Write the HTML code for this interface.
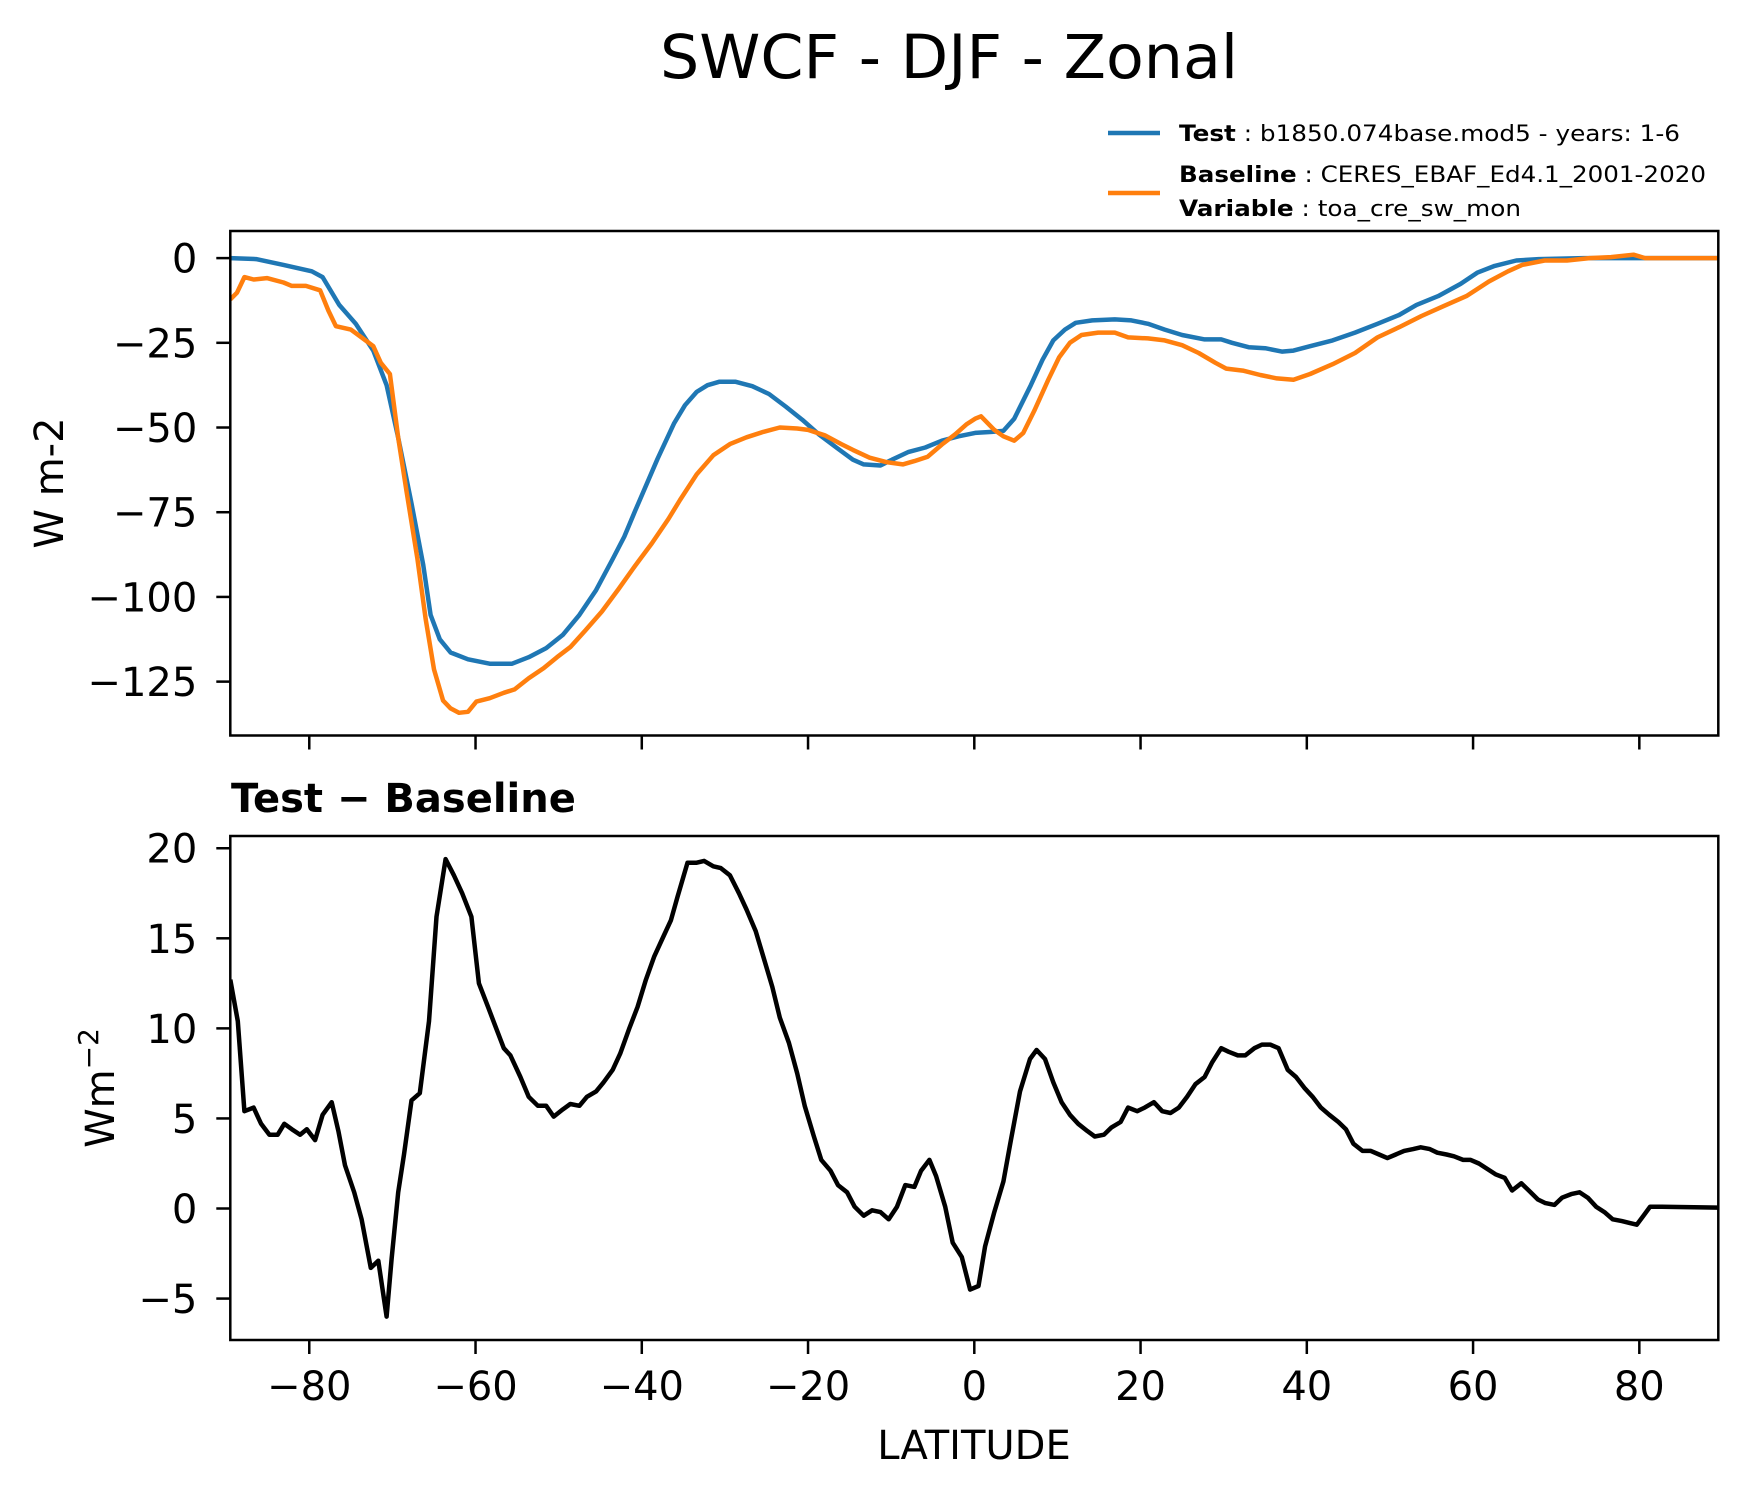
<!DOCTYPE html>
<html><head><meta charset="utf-8"><style>html,body{margin:0;padding:0;background:#fff}svg{display:block}text{font-family:"DejaVu Sans","Liberation Sans",sans-serif;fill:#000}</style></head>
<body>
<svg id="fig" width="1748" height="1496" viewBox="0 0 1748 1496" xmlns="http://www.w3.org/2000/svg">
<rect width="1748" height="1496" fill="#fff"/>
<text x="949" y="78" font-size="61" text-anchor="middle" textLength="578" lengthAdjust="spacingAndGlyphs">SWCF - DJF - Zonal</text>
<g>
<line x1="1108" y1="133" x2="1160" y2="133" stroke="#1f77b4" stroke-width="4.5"/>
<text x="1179" y="141" font-size="22" textLength="501" lengthAdjust="spacingAndGlyphs"><tspan font-weight="bold">Test</tspan> : b1850.074base.mod5 - years: 1-6</text>
<line x1="1108" y1="193" x2="1160" y2="193" stroke="#ff7f0e" stroke-width="4.5"/>
<text x="1179" y="182" font-size="22" textLength="527" lengthAdjust="spacingAndGlyphs"><tspan font-weight="bold">Baseline</tspan> : CERES_EBAF_Ed4.1_2001-2020</text>
<text x="1179" y="216" font-size="22" textLength="342" lengthAdjust="spacingAndGlyphs"><tspan font-weight="bold">Variable</tspan> : toa_cre_sw_mon</text>
</g>
<g id="top"></g>
<g id="bot"></g>
<text transform="translate(63,483) rotate(-90)" font-size="40" text-anchor="middle">W m-2</text>
<text transform="translate(114,1088) rotate(-90)" font-size="40" text-anchor="middle">Wm<tspan font-size="28" dy="-16">−2</tspan></text>
<text x="231" y="812" font-size="40" font-weight="bold">Test − Baseline</text>
<text x="974" y="1459" font-size="40" text-anchor="middle">LATITUDE</text>
</svg>
<script>
const testLat=[-89.5,-86.4,-83.1,-79.7,-78.4,-76.4,-74.4,-72.3,-70.7,-69.3,-67.7,-66.3,-65.4,-64.3,-63.0,-60.9,-58.3,-55.6,-53.6,-51.5,-49.5,-47.5,-45.5,-43.5,-42.1,-40.8,-38.1,-36.1,-34.8,-33.4,-32.1,-30.7,-28.7,-26.7,-24.7,-22.7,-20.7,-18.7,-16.6,-14.6,-13.3,-11.3,-9.9,-7.9,-5.9,-3.9,-1.9,0.1,2.1,3.5,4.8,6.8,8.2,9.5,10.9,12.2,14.2,16.9,18.9,20.9,22.9,25.0,27.7,29.7,31.0,33.0,35.0,37.0,38.4,40.4,43.1,45.8,48.5,51.1,53.2,55.8,58.5,60.5,62.6,65.2,67.9,73.3,89.5];
const testVal=[0,-0.3,-2.0,-3.9,-5.6,-13.8,-19.4,-27.3,-37.5,-53,-72.4,-90.5,-105.3,-112.5,-116.4,-118.4,-119.7,-119.7,-117.8,-115.1,-111.2,-105.3,-98.0,-88.8,-82.2,-74.6,-59.2,-48.7,-43.4,-39.5,-37.5,-36.5,-36.5,-37.8,-40.1,-43.8,-47.7,-52,-55.9,-59.5,-60.9,-61.2,-59.5,-57.2,-55.9,-53.9,-52.6,-51.6,-51.3,-51.0,-47.4,-37.5,-30.0,-24.3,-21.1,-19.1,-18.4,-18.1,-18.4,-19.4,-21.1,-22.7,-24.0,-24.0,-25.0,-26.3,-26.6,-27.6,-27.3,-26.0,-24.3,-22.0,-19.4,-16.8,-13.8,-11.2,-7.6,-4.3,-2.3,-0.7,-0.3,0,0];
const baseLat=[-89.5,-88.7,-87.8,-86.7,-85.1,-83.1,-82.1,-80.4,-78.7,-77.7,-76.8,-75.0,-74.1,-72.3,-71.4,-70.3,-69.3,-68.3,-67.0,-66.0,-65.0,-63.9,-63.0,-62.0,-60.9,-59.9,-58.3,-56.6,-55.3,-53.6,-51.8,-50.2,-48.6,-46.8,-44.8,-42.8,-40.8,-38.8,-36.8,-35.4,-33.4,-31.4,-29.4,-27.4,-25.4,-23.4,-21.3,-20.0,-18.0,-16.0,-14.6,-12.6,-10.6,-8.6,-7.2,-5.6,-3.9,-2.3,-0.9,0.1,0.8,2.4,3.5,4.8,5.9,7.2,8.9,10.2,11.5,12.9,14.9,16.9,18.5,20.9,22.9,25.0,27.0,29.0,30.3,32.3,34.4,36.4,38.4,40.4,43.1,45.8,48.5,51.1,53.8,56.5,59.2,61.9,64.2,65.9,68.6,71.3,74.0,76.6,79.3,80.7,89.5];
const baseVal=[-12.2,-10.2,-5.6,-6.3,-5.9,-7.2,-8.2,-8.2,-9.5,-15.5,-20.1,-21.1,-22.7,-26.0,-30.9,-34.2,-53.0,-68.8,-88.5,-106.6,-121.4,-130.6,-132.9,-134.2,-133.9,-130.9,-129.9,-128.3,-127.3,-124.0,-121.0,-117.8,-114.8,-109.9,-104.3,-97.7,-90.8,-84.2,-77.0,-71.4,-63.8,-58.2,-54.9,-52.9,-51.3,-50.0,-50.3,-50.7,-52.3,-54.9,-56.6,-58.9,-60.2,-60.9,-59.9,-58.6,-55.0,-52.0,-49.0,-47.4,-46.7,-50.7,-52.6,-53.9,-51.6,-45.1,-35.9,-29.3,-25.0,-22.7,-22.0,-22.0,-23.4,-23.7,-24.3,-25.7,-28.0,-30.9,-32.6,-33.2,-34.5,-35.5,-35.9,-34.2,-31.3,-28.0,-23.4,-20.4,-17.1,-14.1,-11.2,-6.9,-3.9,-2.0,-0.7,-0.7,0,0.3,1.0,0,0];
const diffLat=[-89.5,-88.6,-87.8,-86.7,-85.8,-84.8,-83.8,-83.0,-82.1,-81.1,-80.3,-79.3,-78.4,-77.3,-76.5,-75.7,-74.6,-73.7,-72.6,-71.7,-70.7,-70.1,-69.3,-68.6,-67.7,-66.7,-65.6,-64.7,-63.6,-62.6,-61.6,-60.5,-59.6,-58.5,-57.6,-56.6,-55.8,-54.6,-53.6,-52.5,-51.5,-50.6,-49.5,-48.6,-47.5,-46.6,-45.5,-44.6,-43.5,-42.6,-41.5,-40.5,-39.5,-38.5,-37.4,-36.5,-35.7,-34.5,-33.4,-32.5,-31.4,-30.5,-29.4,-28.3,-27.4,-26.3,-25.4,-24.3,-23.4,-22.3,-21.3,-20.4,-19.3,-18.4,-17.3,-16.4,-15.3,-14.4,-13.3,-12.3,-11.3,-10.3,-9.3,-8.3,-7.2,-6.4,-5.4,-4.6,-3.5,-2.6,-1.5,-0.5,0.5,1.3,2.4,3.5,4.4,5.5,6.7,7.5,8.5,9.5,10.5,11.5,12.5,13.6,14.5,15.6,16.5,17.6,18.5,19.6,20.5,21.6,22.6,23.6,24.6,25.6,26.6,27.7,28.6,29.7,30.6,31.7,32.6,33.7,34.6,35.6,36.6,37.7,38.7,39.7,40.7,41.7,42.7,43.8,44.7,45.6,46.7,47.7,48.7,49.7,50.7,51.7,52.8,53.7,54.8,55.7,56.8,57.7,58.8,59.7,60.7,61.7,62.7,63.8,64.7,65.8,66.7,67.8,68.7,69.8,70.7,71.8,72.8,73.8,74.8,75.8,76.8,77.9,78.8,79.7,80.5,81.3,82.7,89.5];
const diffVal=[12.7,10.4,5.4,5.6,4.7,4.1,4.1,4.7,4.4,4.1,4.4,3.8,5.2,5.9,4.3,2.4,0.9,-0.6,-3.3,-2.9,-6.0,-2.8,0.9,3.0,6.0,6.4,10.4,16.2,19.4,18.5,17.5,16.2,12.5,11.2,10.1,8.9,8.5,7.3,6.2,5.7,5.7,5.1,5.5,5.8,5.7,6.2,6.5,7.0,7.7,8.6,10.0,11.2,12.7,14.0,15.1,16.0,17.3,19.2,19.2,19.3,19.0,18.9,18.5,17.5,16.6,15.4,14.0,12.3,10.6,9.2,7.5,5.7,4.0,2.7,2.1,1.3,0.9,0.1,-0.4,-0.1,-0.2,-0.6,0.1,1.3,1.2,2.1,2.7,1.8,0.1,-1.9,-2.7,-4.5,-4.3,-2.1,-0.2,1.5,3.8,6.5,8.3,8.8,8.3,7.0,5.9,5.2,4.7,4.3,4.0,4.1,4.5,4.8,5.6,5.4,5.6,5.9,5.4,5.3,5.6,6.2,6.9,7.3,8.1,8.9,8.7,8.5,8.5,8.9,9.1,9.1,8.9,7.7,7.3,6.7,6.2,5.6,5.2,4.8,4.4,3.6,3.2,3.2,3.0,2.8,3.0,3.2,3.3,3.4,3.3,3.1,3.0,2.9,2.7,2.7,2.5,2.2,1.9,1.7,1.0,1.4,1.0,0.5,0.3,0.2,0.6,0.8,0.9,0.6,0.1,-0.2,-0.6,-0.7,-0.8,-0.9,-0.4,0.1,0.1,0.05];
const xTicks=[-80,-60,-40,-20,0,20,40,60,80];
const topYTicks=[0,-25,-50,-75,-100,-125];
const botYTicks=[20,15,10,5,0,-5];

const NS='http://www.w3.org/2000/svg';
const X0=230.3,X1=1718.3,XMIN=-89.5,XMAX=89.5;
function xs(v){return X0+(v-XMIN)/(XMAX-XMIN)*(X1-X0);}
const topAx={top:231,bot:735.5,vmax:8.0,vmin:-140.9};
const botAx={top:836,bot:1340,vmax:20.68,vmin:-7.3};
function ys(ax,v){return ax.top+(ax.vmax-v)/(ax.vmax-ax.vmin)*(ax.bot-ax.top);}
function mk(tag,attrs,parent){const e=document.createElementNS(NS,tag);for(const k in attrs)e.setAttribute(k,attrs[k]);parent.appendChild(e);return e;}
function fmt(v){return v<0?'\u2212'+Math.abs(v):String(v);}

function drawAxes(g,ax,yTicks,showXLabels,prefix){
  const clipId=prefix+'-clip';
  const defs=mk('defs',{},g);
  const cp=mk('clipPath',{id:clipId},defs);
  mk('rect',{x:X0,y:ax.top,width:X1-X0,height:ax.bot-ax.top},cp);
  for(const t of yTicks){
    const y=ys(ax,t);
    const tk=mk('line',{x1:X0-14,x2:X0,y1:y,y2:y,stroke:'#000','stroke-width':2.5},g);
    
    
    const lb=mk('text',{x:X0-33,y:y+14.5,'font-size':40,'text-anchor':'end'},g);
    lb.textContent=fmt(t);
    
    
  }
  for(const t of xTicks){
    const x=xs(t);
    const tk=mk('line',{x1:x,x2:x,y1:ax.bot,y2:ax.bot+14,stroke:'#000','stroke-width':2.5},g);
    
    
    if(showXLabels){
      const lb=mk('text',{x:x,y:ax.bot+60,'font-size':40,'text-anchor':'middle'},g);
      lb.textContent=fmt(t);
      
      
    }
  }
  return clipId;
}
function drawLine(g,ax,lat,val,color,name,clipId){
  let d='';
  for(let i=0;i<lat.length;i++){d+=(i?'L':'M')+xs(lat[i]).toFixed(1)+','+ys(ax,val[i]).toFixed(1);}
  const p=mk('path',{d:d,fill:'none',stroke:color,'stroke-width':4.5,'stroke-linejoin':'round','clip-path':'url(#'+clipId+')'},g);
  
  
}
function frame(g,ax,name){
  const r=mk('rect',{x:X0,y:ax.top,width:X1-X0,height:ax.bot-ax.top,fill:'none',stroke:'#000','stroke-width':2.5},g);
  
  
}
const gt=document.getElementById('top');


const c1=drawAxes(gt,topAx,topYTicks,false,'top');
drawLine(gt,topAx,testLat,testVal,'#1f77b4','test-series-line',c1);
drawLine(gt,topAx,baseLat,baseVal,'#ff7f0e','baseline-series-line',c1);
frame(gt,topAx,'top-plot-frame');
const gb=document.getElementById('bot');


const c2=drawAxes(gb,botAx,botYTicks,true,'bottom');
drawLine(gb,botAx,diffLat,diffVal,'#000','difference-series-line',c2);
frame(gb,botAx,'bottom-plot-frame');
</script>
</body></html>
